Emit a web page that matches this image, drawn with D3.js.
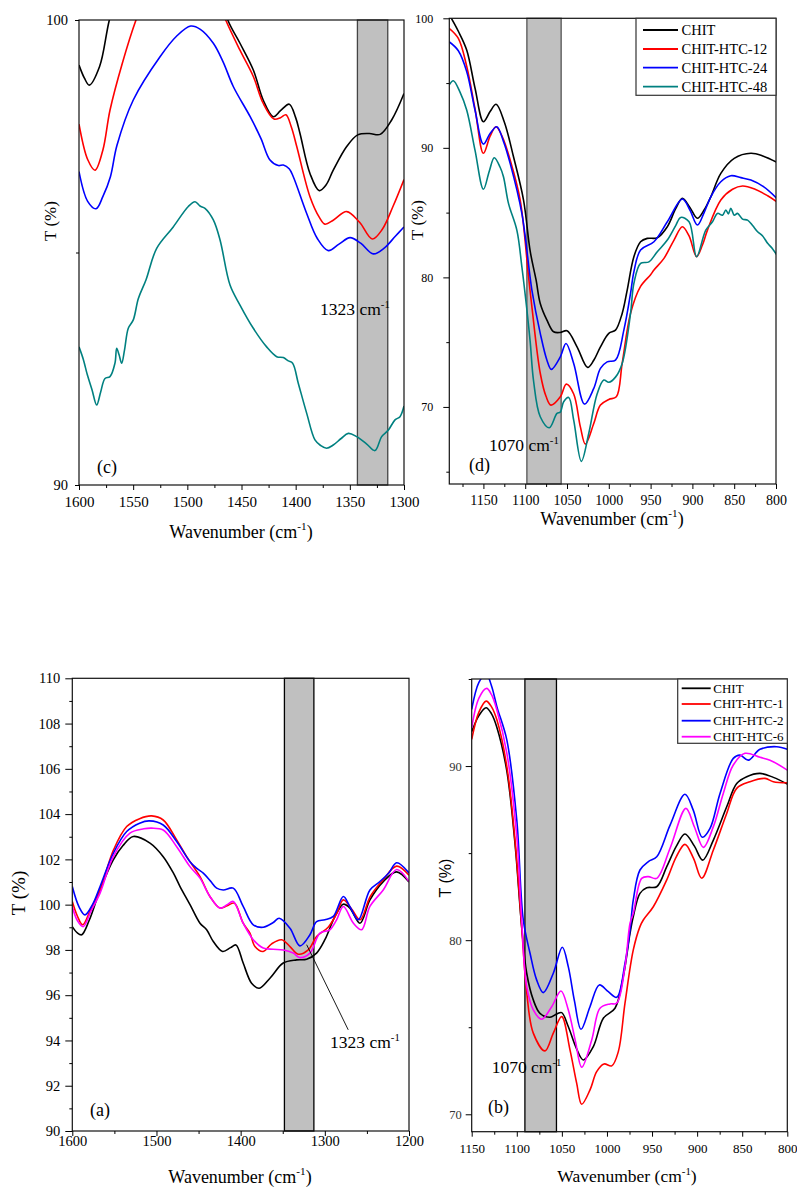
<!DOCTYPE html>
<html>
<head>
<meta charset="utf-8">
<script src="https://cdn.jsdelivr.net/npm/d3@7"></script>
<style>
body { margin: 0; background: #fff; }
svg { display: block; background: #fff; }
</style>
</head>
<body>
<script>
// ---------- data: [wavenumber, T %] ----------

// panel (c) 1600-1300
const cChit = [[1600,99.03],[1595,98.75],[1590.5,98.6],[1581,99.0],[1572,100],[1560,101],[1530,101.9],[1500,102.1],[1480,101.3],[1462.7,100],[1451.4,99.5],[1439,98.92],[1430,98.28],[1420.6,97.92],[1414,98.05],[1405.9,98.19],[1400,97.9],[1396,97.56],[1386.8,96.7],[1378.2,96.33],[1372,96.45],[1365.3,96.77],[1352.9,97.28],[1342.7,97.53],[1332,97.56],[1322,97.54],[1311.4,97.85],[1300,98.42]];
const cHtc12 = [[1600,97.76],[1592,97.0],[1585.2,96.77],[1578,97.2],[1571.4,98.06],[1560,99.07],[1547.4,100],[1530,101.0],[1500,101.4],[1480,100.9],[1464.6,100],[1451.4,99.35],[1439,98.78],[1430,98.21],[1420,97.87],[1414,97.9],[1409,97.96],[1404,97.7],[1399,97.28],[1386.8,96.2],[1378,95.75],[1373,95.61],[1365,95.7],[1352.9,95.88],[1341,95.65],[1329.3,95.29],[1320,95.5],[1310,96.0],[1300,96.57]];
const cHtc24 = [[1600,96.74],[1592,96.1],[1584.3,95.94],[1578,96.2],[1571,96.63],[1565,97.3],[1549.9,98.28],[1525.2,99.21],[1510,99.65],[1496.9,99.87],[1488,99.8],[1476,99.5],[1467,99.1],[1457.6,98.57],[1442,97.92],[1432,97.45],[1423.7,96.99],[1416,96.87],[1411.4,96.88],[1406,96.8],[1402.2,96.63],[1390,95.85],[1380,95.3],[1369.9,95.04],[1360,95.18],[1349.8,95.32],[1340,95.2],[1328.3,94.97],[1318,95.1],[1308,95.35],[1300,95.55]];
const cHtc48 = [[1600,92.97],[1596,92.7],[1592.3,92.37],[1588,92.05],[1583.7,91.72],[1580,92.0],[1576,92.29],[1571.4,92.33],[1566.8,92.62],[1565.2,92.94],[1563,92.8],[1560.6,92.62],[1558,92.9],[1554.5,93.37],[1549.9,93.55],[1545.2,94.01],[1538.2,94.41],[1528.3,95.09],[1513,95.55],[1499.1,95.99],[1492.9,96.09],[1488.3,96.0],[1483.7,95.95],[1476,95.7],[1469.8,95.27],[1460.6,94.3],[1451.4,93.87],[1439.1,93.37],[1426.8,92.97],[1417.5,92.76],[1411.4,92.74],[1406.8,92.67],[1402.8,92.62],[1397.6,92.19],[1389.8,91.54],[1382.2,90.97],[1377,90.85],[1371.5,90.79],[1365.3,90.86],[1358,91.0],[1351.4,91.11],[1343.7,91.04],[1334.4,90.88],[1326.8,90.74],[1320.6,91.04],[1314.5,91.18],[1308.3,91.4],[1303.7,91.47],[1300,91.7]];

// panel (d) 1190-800
const dChit = [[1191,100.3],[1180,99.0],[1170,97.55],[1160,94.6],[1150,92.02],[1142,92.8],[1134.8,93.36],[1125,92.0],[1114,89.31],[1102,85.97],[1094,82.0],[1087,79.8],[1082,77.99],[1074,76.7],[1066,75.8],[1058,75.75],[1050,75.88],[1038,74.64],[1025.3,73.05],[1018,73.6],[1010,74.64],[1000,75.68],[992,75.93],[984,77.22],[978,79.02],[970,81.6],[962,82.75],[954,83.01],[942,83.06],[930,83.91],[920,85.3],[912,86.1],[903,85.4],[894.1,84.56],[886,85.2],[878,86.22],[866,88.03],[850,89.19],[830,89.58],[815,89.35],[799,88.88]];
const dHtc12 = [[1191,99.23],[1180,98.45],[1170,96.3],[1160,93.0],[1150,89.58],[1142,90.9],[1135,91.63],[1127,90.8],[1118,89.06],[1106,85.97],[1096,80.05],[1092,77.73],[1082,72.6],[1075,70.8],[1069.2,70.14],[1058,70.78],[1050.8,71.76],[1042,71.0],[1034,68.46],[1028,67.13],[1018,68.72],[1010,70.14],[1000,70.58],[991,70.78],[984,73.36],[974,77.22],[962,79.3],[950,80.2],[946,80.57],[934,81.47],[922,82.88],[912,83.91],[904,83.2],[895,81.6],[888,82.5],[882,83.65],[866,85.97],[852,86.8],[840,87.05],[825,86.8],[810,86.3],[799,85.84]];
const dHtc24 = [[1191,98.19],[1180,97.5],[1170,95.9],[1160,92.9],[1150,90.29],[1142,91.1],[1134,91.63],[1126,90.5],[1118,88.8],[1104,84.94],[1092,79.02],[1082,75.68],[1074,73.61],[1068.8,72.9],[1058,73.87],[1051.2,74.9],[1042,73.36],[1029,70.22],[1018,71.43],[1010,72.97],[1002,73.48],[992,73.61],[982,75.93],[974,78.76],[970,80.43],[962,82.11],[946,82.75],[930,84.29],[912,86.05],[903,85.2],[894,84.04],[886,85.0],[878,86.22],[866,87.38],[854,87.85],[842,87.7],[830,87.51],[815,87.0],[799,86.1]];
const dHtc48 = [[1191,94.85],[1186,95.18],[1178,94.3],[1170,92.92],[1160,89.8],[1150,86.8],[1143,88.2],[1137,89.24],[1130,88.5],[1126,87.77],[1120,85.71],[1110,83.65],[1104,80.82],[1098,77.5],[1094,75.0],[1090,72.0],[1082,69.24],[1071.2,68.39],[1062,69.5],[1058,69.6],[1054,70.4],[1048,70.73],[1042,68.98],[1032.8,65.8],[1024,67.95],[1014,71.0],[1006,72.08],[1000,71.9],[992,72.3],[984,73.36],[974,77.22],[970,79.54],[962,81.08],[952,81.2],[942,81.98],[930,82.88],[920,84.0],[914,84.63],[904,84.29],[895,81.6],[884,83.65],[876,84.29],[870,84.94],[864,84.8],[860,85.2],[857,84.9],[854,85.33],[850,84.8],[846,84.94],[840,84.5],[834,84.42],[828,84.0],[822,83.52],[816,83.2],[810,82.63],[804,82.2],[799,81.72]];

// panel (a) 1600-1200
const aChit = [[1600,99.03],[1594,98.75],[1588.8,98.67],[1580,99.3],[1567,100.65],[1551.3,101.98],[1540,102.6],[1527.6,103.01],[1507.7,102.72],[1492,102.12],[1480,101.4],[1472,100.8],[1460,99.99],[1448.3,99.18],[1440.4,98.89],[1432.5,98.37],[1421.4,97.93],[1412,98.1],[1405.6,98.22],[1397,97.42],[1387,96.53],[1377.9,96.31],[1365.2,96.75],[1349.4,97.42],[1333.5,97.56],[1321.6,97.59],[1309.8,97.86],[1299.9,98.45],[1290,99.33],[1286,99.62],[1278.1,100.02],[1270.2,99.85],[1258.3,99.18],[1246.4,100.21],[1230.6,101.02],[1214.7,101.45],[1200,101.0]];
const aHtc1 = [[1600,100.14],[1594,99.5],[1587.7,99.11],[1578,99.8],[1567,100.65],[1551,102.42],[1535.4,103.45],[1520,103.8],[1505.7,103.92],[1492,103.74],[1476,102.86],[1464.1,102.12],[1448.3,101.24],[1436.5,100.36],[1424.6,99.85],[1416,99.95],[1407.6,100.07],[1397,99.18],[1389,98.74],[1383,98.15],[1373.2,97.93],[1363.2,98.27],[1351.3,98.45],[1341.4,98.15],[1331.6,97.81],[1319.7,98.0],[1309.8,98.59],[1296,99.0],[1286,99.6],[1278,100.21],[1268,99.8],[1258,99.33],[1246,100.36],[1230.6,101.1],[1214.7,101.7],[1200,101.3]];
const aHtc2 = [[1600,100.8],[1592,99.9],[1585,99.55],[1576,100.0],[1567,100.8],[1551.3,102.27],[1535.4,103.23],[1520,103.6],[1508.5,103.7],[1492,103.52],[1476,102.79],[1460.2,101.9],[1452,101.6],[1444.4,101.39],[1436,101.05],[1428.5,100.73],[1420.7,100.65],[1408.8,100.73],[1397,99.92],[1385,99.11],[1373.2,99.0],[1361.3,99.21],[1354.2,99.4],[1341.4,98.96],[1329.6,98.18],[1317.7,98.67],[1309.8,99.25],[1299.9,99.33],[1290,99.48],[1278,100.36],[1270,99.9],[1260.3,99.33],[1246.4,100.65],[1234.6,101.02],[1224,101.4],[1214.7,101.85],[1200,101.4]];
const aHtc6 = [[1600,99.92],[1594,99.3],[1587,99.03],[1578,99.7],[1567,100.51],[1551.3,102.12],[1531.5,103.16],[1515,103.35],[1505.7,103.38],[1492,103.3],[1476,102.56],[1460.2,101.68],[1448.3,101.17],[1436.5,100.36],[1424.6,99.85],[1416,100.0],[1408.8,100.14],[1397,99.18],[1385,98.45],[1373.2,98.08],[1361.3,98.03],[1349.4,98.0],[1337.5,97.86],[1329.6,97.66],[1317.7,97.86],[1305.8,98.74],[1294,98.89],[1286,99.33],[1278,99.92],[1266,99.18],[1256.3,98.89],[1246.4,99.92],[1230.6,100.65],[1214.7,101.55],[1200,101.02]];

// panel (b) 1150-800
const bChit = [[1150,91.97],[1142,92.9],[1134.1,93.35],[1128,93.0],[1122.3,92.26],[1111.2,89.77],[1102,85.56],[1094.6,80.78],[1089,78.1],[1081.7,76.57],[1074.3,75.8],[1063.2,75.57],[1055.7,75.76],[1050.2,75.84],[1042.9,75.04],[1034,73.8],[1026.2,73.12],[1015.1,73.89],[1004,75.52],[991.1,76.09],[981.9,77.91],[974.4,80.4],[970.8,81.35],[963.4,82.69],[955.9,83.01],[944.8,83.07],[933.7,84.22],[923,85.4],[913.5,86.1],[903,85.4],[893.8,84.6],[882,85.75],[867.2,87.66],[856.1,89.0],[845,89.39],[830.3,89.58],[815.5,89.35],[800,88.97]];
const bHtc1 = [[1150,91.53],[1142,93.1],[1134,93.73],[1128,93.4],[1122,92.64],[1111,89.96],[1102,85.75],[1094.6,80.78],[1089,77.0],[1081.7,74.66],[1068.7,73.64],[1059.5,74.66],[1050.2,75.61],[1041,73.7],[1033.6,71.79],[1028,70.58],[1018.8,71.4],[1011.4,72.45],[1003.3,72.89],[994.7,72.78],[987.4,73.6],[980,76.38],[970.8,79.44],[963.4,80.78],[959.7,81.16],[948.6,81.92],[933.7,83.46],[923,84.8],[913.5,85.5],[904,84.7],[894.9,83.56],[882,85.18],[867.2,87.28],[856.1,88.72],[841.4,89.1],[824.7,89.29],[815.5,89.1],[800,89.04]];
const bHtc2 = [[1150,93.25],[1142,94.8],[1134,95.3],[1128,94.6],[1122,93.4],[1111,91.49],[1100,86.9],[1092.8,81.16],[1085.3,79.25],[1078,77.72],[1070.6,76.99],[1059.5,78.1],[1049.5,79.59],[1042.9,78.48],[1036,76.5],[1028.8,74.88],[1018.8,76.18],[1008.5,77.43],[998.5,77.04],[989.2,76.72],[980,78.67],[974.4,80.57],[970.8,82.31],[963.4,84.03],[954.1,84.51],[944.8,84.79],[930,86.61],[913.5,88.38],[904.3,87.47],[894.3,85.91],[885.7,86.42],[874.6,88.43],[859.9,90.44],[852.4,90.63],[843.2,90.34],[830.3,90.96],[811.8,91.11],[800,90.96]];
const bHtc6 = [[1150,92.2],[1142,93.9],[1133.4,94.46],[1128,94.1],[1122,93.21],[1111,90.73],[1100,85.94],[1094.6,81.16],[1089,77.33],[1081.7,76.0],[1072.4,75.46],[1061.3,76.18],[1051,77.08],[1042.9,76.0],[1035,74.2],[1028,72.7],[1016.9,74.27],[1007.7,76.09],[996.6,76.34],[989.2,76.38],[980,78.48],[974.4,80.97],[970.8,81.54],[961.5,83.55],[954.1,83.65],[944.8,83.55],[930,85.28],[912.4,87.57],[903,86.5],[893.1,85.33],[882,86.52],[871,88.43],[859.9,90.06],[846.9,90.73],[830.3,90.5],[819.2,90.34],[800,89.77]];

// shaded bands [from, to] in cm-1
const cBand = [1343, 1315];
const dBand = [1098, 1057];
const aBand = [1348, 1313];
const bBand = [1091, 1056];

// ticks
const cXMajor = [1600, 1550, 1500, 1450, 1400, 1350, 1300];
const cXMinor = [1575, 1525, 1475, 1425, 1375, 1325];
const cYMajor = [90, 100];
const cYMinor = [95];
const dXMajor = [1150, 1100, 1050, 1000, 950, 900, 850, 800];
const dXMinor = [1175, 1125, 1075, 1025, 975, 925, 875, 825];
const dYMajor = [70, 80, 90, 100];
const dYMinor = [65, 75, 85, 95];
const aXMajor = [1600, 1500, 1400, 1300, 1200];
const aXMinor = [1550, 1450, 1350, 1250];
const aYMajor = [90, 92, 94, 96, 98, 100, 102, 104, 106, 108, 110];
const aYMinor = [91, 93, 95, 97, 99, 101, 103, 105, 107, 109];
const bXMajor = [1150, 1100, 1050, 1000, 950, 900, 850, 800];
const bXMinor = [1125, 1075, 1025, 975, 925, 875, 825];
const bYMajor = [70, 80, 90];
const bYMinor = [75, 85, 95];

const namesTop = ["CHIT", "CHIT-HTC-12", "CHIT-HTC-24", "CHIT-HTC-48"];
const namesBottom = ["CHIT", "CHIT-HTC-1", "CHIT-HTC-2", "CHIT-HTC-6"];
const colorsTop = ["#000000", "#ff0000", "#0000ff", "#008080"];
const colorsBottom = ["#000000", "#ff0000", "#0000ff", "#ff00ff"];

// ---------- drawing ----------
const SERIF = '"Liberation Serif", "DejaVu Serif", "Times New Roman", Times, serif';
const SANS = '"Liberation Sans", Arial, "DejaVu Sans", sans-serif';

const svg = d3.select('body').append('svg')
    .attr('width', 797)
    .attr('height', 1189)
    .attr('font-family', SERIF);

// text with a superscript part, e.g. cm^-1
function supText(parent, x, y, pre, sup, post, size, anchor) {
    const t = parent.append('text')
        .attr('x', x)
        .attr('y', y)
        .attr('text-anchor', anchor || 'start')
        .style('font-family', SERIF)
        .style('font-size', size + 'px');
    t.append('tspan').text(pre);
    t.append('tspan').attr('dy', -0.42 * size).style('font-size', (size * 0.62) + 'px').text(sup);
    if (post) t.append('tspan').attr('dy', 0.42 * size).text(post);
    return t;
}

function drawPanel(p) {
    const x = d3.scaleLinear().domain(p.xDomain).range([p.left, p.right]);
    const y = d3.scaleLinear().domain(p.yDomain).range([p.bottom, p.top]);
    const g = svg.append('g').attr('id', 'panel-' + p.id);

    g.append('clipPath').attr('id', 'clip-' + p.id)
        .append('rect')
        .attr('x', p.left).attr('y', p.top)
        .attr('width', p.right - p.left).attr('height', p.bottom - p.top);

    // shaded band
    g.append('rect')
        .attr('x', x(p.band[0]))
        .attr('y', p.top)
        .attr('width', x(p.band[1]) - x(p.band[0]))
        .attr('height', p.bottom - p.top)
        .attr('fill', '#c0c0c0')
        .attr('stroke', p.bandStroke)
        .attr('stroke-width', 1.3);

    // spectra
    const line = d3.line()
        .x(d => x(d[0]))
        .y(d => y(d[1]))
        .curve(d3.curveCatmullRom.alpha(0.5));

    g.append('g')
        .attr('clip-path', `url(#clip-${p.id})`)
        .selectAll('path')
        .data(p.series)
        .enter()
        .append('path')
        .attr('d', d => line(d.values))
        .attr('fill', 'none')
        .attr('stroke', d => d.color)
        .attr('stroke-width', 1.6)
        .attr('stroke-linejoin', 'round');

    // frame
    g.append('rect')
        .attr('x', p.left).attr('y', p.top)
        .attr('width', p.right - p.left).attr('height', p.bottom - p.top)
        .attr('fill', 'none')
        .attr('stroke', '#111')
        .attr('stroke-width', 1.2);

    // x axis
    const gx = g.append('g')
        .attr('transform', `translate(0, ${p.bottom})`)
        .call(d3.axisBottom(x).tickValues(p.xMajor).tickSize(5).tickFormat(d3.format('d')));
    gx.select('.domain').remove();
    gx.attr('font-family', null).attr('font-size', null);
    gx.selectAll('text')
        .attr('y', p.xTickY)
        .attr('dy', 0)
        .style('font-family', SERIF)
        .style('font-size', p.xTickFont + 'px')
        .style('fill', '#000');

    const gxm = g.append('g')
        .attr('transform', `translate(0, ${p.bottom})`)
        .call(d3.axisBottom(x).tickValues(p.xMinor).tickSize(3).tickFormat(''));
    gxm.select('.domain').remove();

    // y axis
    const gy = g.append('g')
        .attr('transform', `translate(${p.left}, 0)`)
        .call(d3.axisLeft(y).tickValues(p.yMajor).tickSize(p.yTickLen).tickFormat(d3.format('d')));
    gy.select('.domain').remove();
    gy.attr('font-family', null).attr('font-size', null);
    gy.selectAll('text')
        .attr('x', -p.yTickGap)
        .style('font-family', SERIF)
        .style('font-size', p.yTickFont + 'px')
        .style('fill', p.yTickColor || '#000');

    const gym = g.append('g')
        .attr('transform', `translate(${p.left}, 0)`)
        .call(d3.axisLeft(y).tickValues(p.yMinor).tickSize(3).tickFormat(''));
    gym.select('.domain').remove();

    // axis titles
    supText(g, p.xTitle[0], p.xTitle[1], 'Wavenumber (cm', '-1', ')', p.xTitleFont, 'middle');
    g.append('text')
        .attr('transform', `translate(${p.yTitle[0]}, ${p.yTitle[1]}) rotate(-90)`)
        .attr('text-anchor', 'middle')
        .style('font-size', p.yTitleFont + 'px')
        .style('font-family', p.yTitleFamily || SERIF)
        .text('T (%)');

    // band label and panel letter
    supText(g, p.note[0], p.note[1], p.noteText, '-1', null, 17.5, 'start');
    g.append('text')
        .attr('x', p.letter[0]).attr('y', p.letter[1])
        .style('font-family', SERIF)
        .style('font-size', '18px')
        .text(p.letterText);

    if (p.leader) {
        g.append('line')
            .attr('x1', x(p.leader[0][0])).attr('y1', y(p.leader[0][1]))
            .attr('x2', x(p.leader[1][0])).attr('y2', y(p.leader[1][1]))
            .attr('stroke', '#000')
            .attr('stroke-width', 0.9);
    }

    // legend
    if (p.legend) {
        const L = p.legend;
        g.append('rect')
            .attr('x', L.x).attr('y', L.y)
            .attr('width', L.w).attr('height', L.h)
            .attr('fill', '#fff')
            .attr('stroke', '#333')
            .attr('stroke-width', 1.2);
        const rows = g.append('g').selectAll('g')
            .data(p.series)
            .enter()
            .append('g')
            .attr('transform', (d, i) => `translate(0, ${L.rows[i]})`);
        rows.append('line')
            .attr('x1', L.lx1).attr('x2', L.lx2)
            .attr('stroke', d => d.color)
            .attr('stroke-width', 1.8);
        rows.append('text')
            .attr('x', L.tx)
            .attr('dy', '0.34em')
            .style('font-family', SERIF)
            .style('font-size', L.font + 'px')
            .text(d => d.name);
    }
}

const seriesTop = (vals) => vals.map((v, i) => ({ name: namesTop[i], color: colorsTop[i], values: v }));
const seriesBottom = (vals) => vals.map((v, i) => ({ name: namesBottom[i], color: colorsBottom[i], values: v }));

// (c)
drawPanel({
    id: 'c', left: 79, right: 404, top: 20, bottom: 485,
    xDomain: [1600, 1300], yDomain: [90, 100],
    xMajor: cXMajor, xMinor: cXMinor, yMajor: cYMajor, yMinor: cYMinor,
    xTickY: 22, xTickFont: 15, yTickLen: 4, yTickGap: 11, yTickFont: 14.5,
    series: seriesTop([cChit, cHtc12, cHtc24, cHtc48]),
    band: cBand, bandStroke: '#444',
    xTitle: [241, 538], xTitleFont: 18,
    yTitle: [56, 221], yTitleFont: 17,
    note: [320, 315], noteText: '1323 cm',
    letter: [97, 473], letterText: '(c)'
});

// (d)
drawPanel({
    id: 'd', left: 449.3, right: 776, top: 18.3, bottom: 484,
    xDomain: [1190.8, 800], yDomain: [64.05, 100],
    xMajor: dXMajor, xMinor: dXMinor, yMajor: dYMajor, yMinor: dYMinor,
    xTickY: 21, xTickFont: 14, yTickLen: 6, yTickGap: 16, yTickFont: 12,
    series: seriesTop([dChit, dHtc12, dHtc24, dHtc48]),
    band: dBand, bandStroke: '#555',
    xTitle: [612, 525], xTitleFont: 18,
    yTitle: [423, 220], yTitleFont: 17,
    note: [489, 451], noteText: '1070 cm',
    letter: [469, 471], letterText: '(d)',
    legend: { x: 636, y: 18.3, w: 140, h: 77, rows: [30, 49, 67.7, 86.7], lx1: 643, lx2: 678, tx: 681.5, font: 14.5 }
});

// (a)
drawPanel({
    id: 'a', left: 72.3, right: 409, top: 678.3, bottom: 1131,
    xDomain: [1600, 1200], yDomain: [90, 110],
    xMajor: aXMajor, xMinor: aXMinor, yMajor: aYMajor, yMinor: aYMinor,
    xTickY: 15, xTickFont: 14.5, yTickLen: 7, yTickGap: 12, yTickFont: 14.5,
    series: seriesBottom([aChit, aHtc1, aHtc2, aHtc6]),
    band: aBand, bandStroke: '#000',
    xTitle: [240, 1183], xTitleFont: 18,
    yTitle: [25, 893], yTitleFont: 19,
    note: [330, 1048], noteText: '1323 cm',
    letter: [90, 1116], letterText: '(a)',
    leader: [[1321.6, 98.23], [1272.2, 94.47]]
});

// (b)
drawPanel({
    id: 'b', left: 471.7, right: 787.3, top: 679, bottom: 1131.7,
    xDomain: [1150, 800], yDomain: [69, 95],
    xMajor: bXMajor, xMinor: bXMinor, yMajor: bYMajor, yMinor: bYMinor,
    xTickY: 21, xTickFont: 13, yTickLen: 6, yTickGap: 10, yTickFont: 12.5, yTickColor: '#333',
    series: seriesBottom([bChit, bHtc1, bHtc2, bHtc6]),
    band: bBand, bandStroke: '#000',
    xTitle: [627, 1182], xTitleFont: 17.5,
    yTitle: [451, 878], yTitleFont: 16, yTitleFamily: SANS,
    note: [491.7, 1073], noteText: '1070 cm',
    letter: [488, 1113], letterText: '(b)',
    legend: { x: 677.7, y: 679, w: 109.6, h: 64.3, rows: [688.3, 704, 720.7, 736.7], lx1: 681.7, lx2: 710.7, tx: 713.3, font: 13 }
});
</script>
</body>
</html>
